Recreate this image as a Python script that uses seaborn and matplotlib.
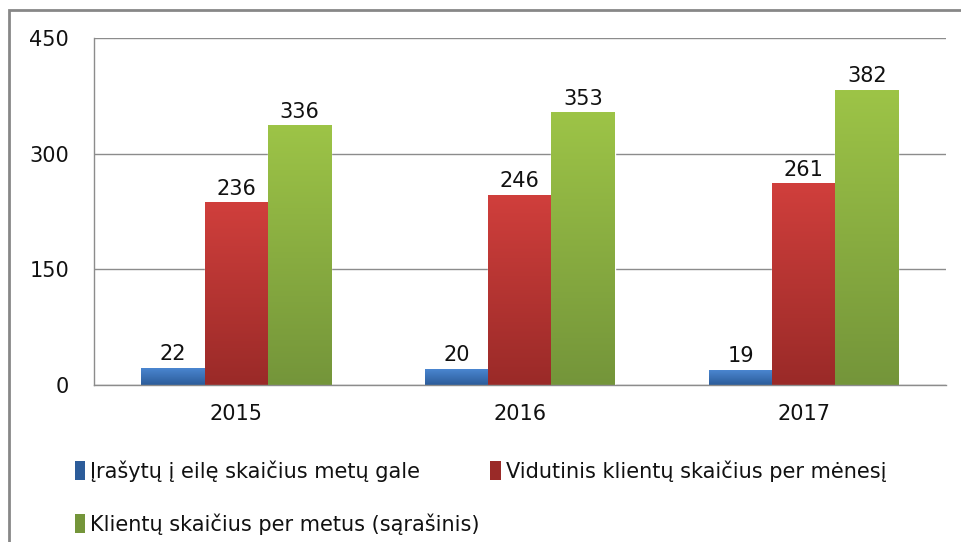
import numpy as np
import pandas as pd
import matplotlib
matplotlib.use("Agg")
import matplotlib.pyplot as plt
from matplotlib.patches import Rectangle, Patch
from matplotlib.colors import LinearSegmentedColormap
import seaborn as sns

# Chart data
years = ["2015", "2016", "2017"]
series_names = [
    "Įrašytų į eilę skaičius metų gale",
    "Vidutinis klientų skaičius per mėnesį",
    "Klientų skaičius per metus (sąrašinis)",
]
queue_end = [22, 20, 19]
monthly_avg = [236, 246, 261]
yearly_total = [336, 353, 382]
y_ticks = [0, 150, 300, 450]

# top / bottom colours of the gradient fill for each series
top_colors = ["#4a86d0", "#d03f3c", "#9dc447"]
bottom_colors = ["#2c5c9a", "#9a2a28", "#74953a"]

sns.set_style("white")
plt.rcParams["font.family"] = ["DejaVu Sans"]

df = pd.DataFrame({
    "year": years * 3,
    "series": np.repeat(series_names, 3),
    "value": queue_end + monthly_avg + yearly_total,
})

fig = plt.figure(figsize=(9.61, 5.42), dpi=100)
ax = fig.add_axes([0.098, 0.2897, 0.886, 0.6403])

sns.barplot(data=df, x="year", y="value", hue="series", hue_order=series_names,
            palette=top_colors, width=0.667, saturation=1, legend=False, ax=ax)

# gradient fill on top of every bar
for i, cont in enumerate(ax.containers):
    cmap = LinearSegmentedColormap.from_list(f"g{i}", [bottom_colors[i], top_colors[i]])
    grad = np.linspace(0, 1, 256).reshape(-1, 1)
    for bar in cont:
        x, w, h = bar.get_x(), bar.get_width(), bar.get_height()
        ax.imshow(grad, cmap=cmap, origin="lower", aspect="auto",
                  extent=[x, x + w, 0, h], zorder=bar.get_zorder() + 0.1)
    ax.bar_label(cont, fontsize=15, padding=3, color="#111111")

ax.set_xlim(-0.5, 2.5)
ax.set_ylim(0, 450)
ax.set_yticks(y_ticks)
ax.set_xticks(range(len(years)))
ax.set_xticklabels(years)
ax.set_xticks([-0.5, 0.5, 1.5, 2.5], minor=True)
ax.tick_params(axis="x", which="major", length=0, pad=14, labelsize=15, labelcolor="#111111")
ax.tick_params(axis="x", which="minor", length=8, color="#8c8c8c", width=1)
ax.tick_params(axis="y", length=8, color="#8c8c8c", width=1, pad=10, labelsize=15,
               labelcolor="#111111")
ax.set_xlabel("")
ax.set_ylabel("")
ax.grid(axis="y", color="#8c8c8c", lw=1)
ax.set_axisbelow(True)
for s in ["top", "right"]:
    ax.spines[s].set_visible(False)
for s in ["left", "bottom"]:
    ax.spines[s].set_color("#8c8c8c")
    ax.spines[s].set_linewidth(1)

# legend: row 1 = series 1, 2 ; row 2 = series 3
handles = [Patch(facecolor=c, edgecolor="none") for c in bottom_colors]
order = [0, 2, 1]
leg = fig.legend([handles[k] for k in order], [series_names[k] for k in order],
                 ncol=2, loc="upper left", bbox_to_anchor=(0.067, 0.17),
                 frameon=False, fontsize=15, handlelength=0.5, handleheight=1.0,
                 handletextpad=0.25, labelspacing=1.5, columnspacing=0.5, borderpad=0)
for t in leg.get_texts():
    t.set_color("#111111")

# chart area border
fig.patches.append(Rectangle((9 / 961, -0.1), 1.2, 1.1 - 10 / 542,
                             transform=fig.transFigure, fill=False,
                             edgecolor="#878787", lw=2))

fig.savefig("out.png", dpi=100)
